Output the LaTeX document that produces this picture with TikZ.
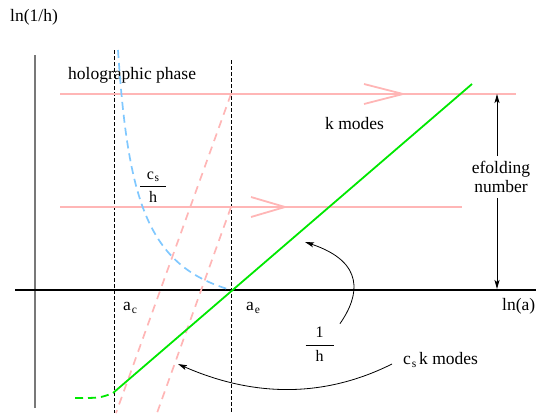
\documentclass[tikz,border=0pt]{standalone}
\usepackage{fontspec}
\setmainfont{Liberation Serif}
\usepackage{amsmath}
\usetikzlibrary{arrows.meta,positioning,calc}
\definecolor{kpink}{RGB}{255,182,182}
\definecolor{csblue}{RGB}{128,200,255}
\definecolor{hgreen}{RGB}{0,232,0}
\definecolor{axgray}{RGB}{120,120,120}
\newcommand\lowsub[1]{\kern0.8pt\raisebox{-0.4ex}{\fontsize{11.5}{12}\selectfont #1}}
\tikzset{
  lbl/.style   ={font=\fontsize{17.5}{19}\selectfont, inner sep=0pt},
  frc/.style   ={font=\fontsize{16}{18}\selectfont, inner sep=0pt},
  xaxis/.style ={line width=1.1pt},
  yaxis/.style ={line width=2pt, draw=axgray},
  epoch/.style ={line width=0.9pt, dash pattern=on 3.5pt off 2.5pt},
  kline/.style ={line width=1.8pt, draw=kpink},
  kdash/.style ={line width=1.7pt, draw=kpink, dash pattern=on 8pt off 6pt},
  csline/.style={line width=1.7pt, draw=csblue, dash pattern=on 8pt off 5pt},
  hubble/.style={line width=1.8pt, draw=hgreen},
  tip/.style   ={-{Stealth[length=9pt,width=5pt,inset=2pt]}, line width=0.8pt},
}

\begin{document}
\begin{tikzpicture}[x=1pt,y=-1pt]
\useasboundingbox (0,0) rectangle (540,413);

% ---- axes ------------------------------------------------------------
\coordinate (yb) at (35,408);
\coordinate (yt) at (35,55);
\coordinate (xl) at (15,290);
\coordinate (xr) at (536,290);
\draw[yaxis] (yb) -- (yt);
\draw[xaxis] (xl) -- (xr);
\node[lbl, anchor=base west] (ylab) at (10,21) {ln(1/h)};
\node[lbl, anchor=base west] (xlab) at (502,310) {ln(a)};

% ---- epochs a_c and a_e ----------------------------------------------
\coordinate (act) at (114,50);
\coordinate (acb) at (114,413);
\coordinate (aet) at (231,60);
\coordinate (aeb) at (231,413);
\coordinate (ae) at (231,290);
\draw[epoch] (act) -- (acb);
\draw[epoch] (aet) -- (aeb);
\node[lbl, anchor=base west] (aclab) at (123,310) {a\lowsub{c}};
\node[lbl, anchor=base west] (aelab) at (246,310) {a\lowsub{e}};
\node[lbl, anchor=base west] (holo) at (68,79) {holographic phase};

% ---- k modes ---------------------------------------------------------
\coordinate (k1l) at (60,94);
\coordinate (k1r) at (516,94);
\coordinate (k2l) at (60,207);
\coordinate (k2r) at (462,207);
\coordinate (k1tip) at (403,94);
\coordinate (k2tip) at (285,207);
\draw[kline] (k1l) -- (k1r);
\draw[kline] (k2l) -- (k2r);
\draw[kline] (k1tip) ++(-39,-10) -- (k1tip) -- ++(-39,10);
\draw[kline] (k2tip) ++(-34,-10) -- (k2tip) -- ++(-34,10);
\node[lbl, anchor=base west] (kmod) at (325,129) {k modes};

% k modes leaving the sound horizon
\coordinate (k1x) at (231,94);
\coordinate (k1e) at (116,413);
\coordinate (k2x) at (231,207);
\coordinate (k2e) at (157,413);
\draw[kdash] (k1x) -- (k1e);
\draw[kdash] (k2x) -- (k2e);

% ---- horizons --------------------------------------------------------
\coordinate (cs0) at (118,50);
\draw[csline] (cs0) .. controls (128,200) and (147,266) .. (ae);
\node[frc] (csh) at (153,187)
  {$\displaystyle\frac{\hspace{7pt}\text{c\lowsub{s}}\hspace{7pt}}{\text{h}}$};

\coordinate (hg0) at (75,398);
\coordinate (hgc) at (113,393);
\coordinate (hgend) at (472,84);
\draw[hubble, dash pattern=on 8pt off 5pt] (hg0) .. controls (100,398) .. (hgc);
\draw[hubble] (hgc) -- (hgend);

% ---- efolding number -------------------------------------------------
\node[lbl, align=center, inner ysep=5pt] (efold) at (501,177) {efolding\\number};
\coordinate (eft) at (497,94);
\coordinate (efb) at (497,289);
\draw[tip] (efold.north -| eft) -- (eft);
\draw[tip] (efold.south -| efb) -- (efb);

% ---- labels with pointers --------------------------------------------
\node[frc] (invh) at (319.5,344)
  {$\displaystyle\frac{\hspace{10pt}\text{1}\hspace{10pt}}{\text{h}}$};
\coordinate (invhp) at (305,242);
\draw[tip] ($(invh.north east)+(5,-3)$) .. controls (360,295) and (365,262) .. (invhp);

\node[lbl, anchor=base west] (cskmod) at (403,364) {c\lowsub{s}\,k modes};
\coordinate (cskp) at (178,364);
\draw[tip] ($(cskmod.base west)+(-11,0)$) .. controls (330,395) and (260,400) .. (cskp);

\end{tikzpicture}
\end{document}
